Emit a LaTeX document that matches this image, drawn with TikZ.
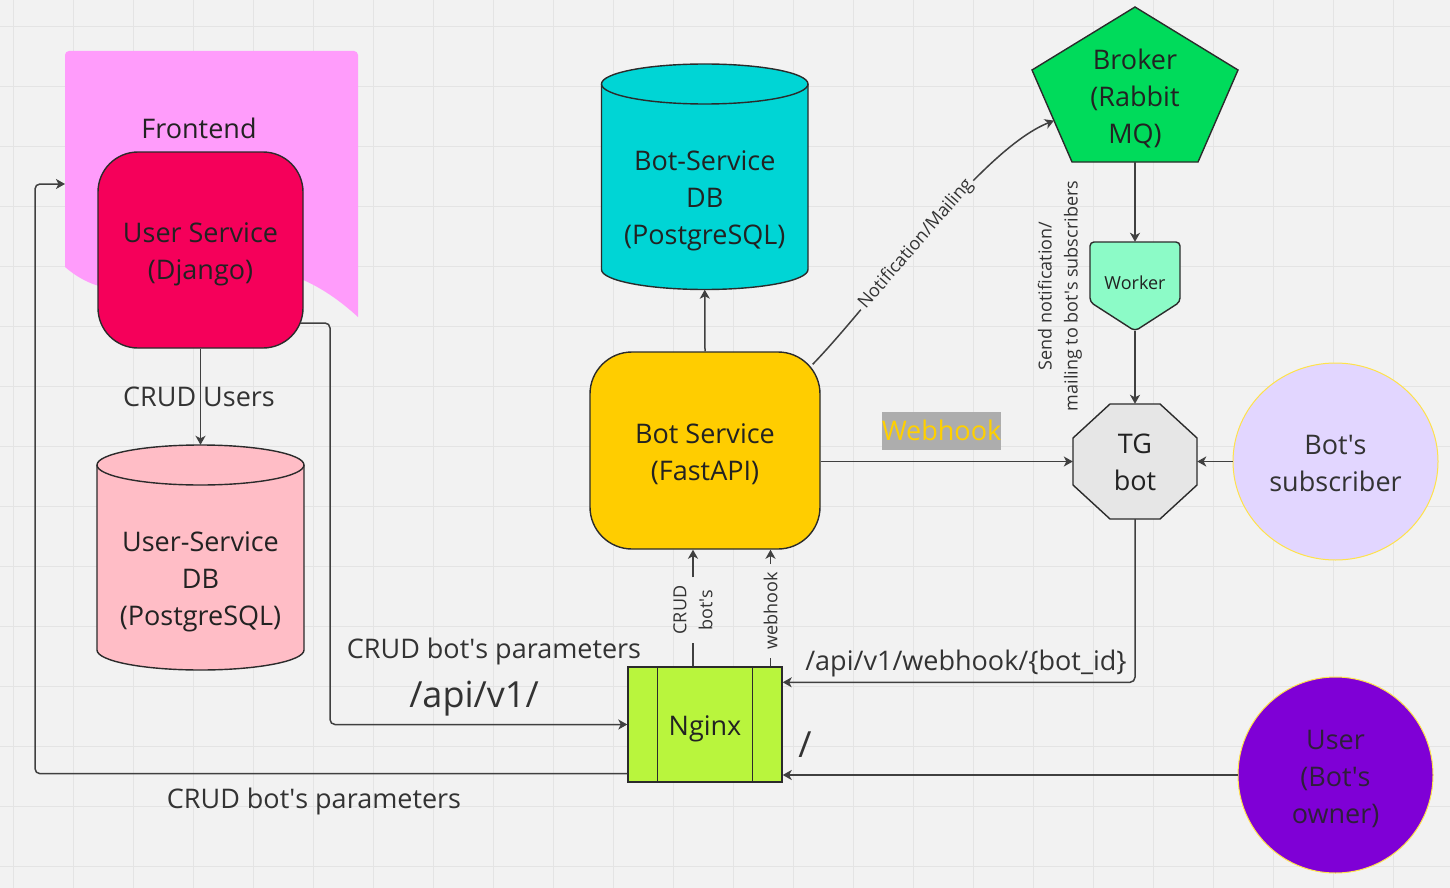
\documentclass[tikz,border=0pt]{standalone}
\usepackage{fontspec}
\setmainfont{Open Sans}
\usetikzlibrary{arrows.meta,calc,shapes.geometric}
\definecolor{bgc}{HTML}{F2F2F2}
\definecolor{gridc}{HTML}{E4E4E4}
\definecolor{edgec}{HTML}{2B2B2B}
\definecolor{linec}{HTML}{404040}
\definecolor{inkc}{HTML}{222222}
\definecolor{labc}{HTML}{333333}
\definecolor{frontc}{HTML}{FF9CFB}
\definecolor{usc}{HTML}{F5005A}
\definecolor{udbc}{HTML}{FFBDC6}
\definecolor{bdbc}{HTML}{00D5D5}
\definecolor{bsc}{HTML}{FFCD00}
\definecolor{ngc}{HTML}{B9F53D}
\definecolor{brc}{HTML}{00DB5B}
\definecolor{wkc}{HTML}{8CFBC7}
\definecolor{tgc}{HTML}{E6E6E6}
\definecolor{subc}{HTML}{E2D6FF}
\definecolor{ownc}{HTML}{7F00D6}
\definecolor{ringc}{HTML}{FFE24A}
\definecolor{ownink}{HTML}{2E1F3A}
\definecolor{whbg}{HTML}{ADADAD}
\definecolor{whfg}{HTML}{FFD000}
\newcommand{\fbig}{\fontsize{27}{37}\selectfont}
\newcommand{\fhuge}{\fontsize{36}{42}\selectfont}
\newcommand{\fsmall}{\fontsize{18}{26}\selectfont}
\newcommand{\qs}{\textquotesingle}

\begin{document}
\begin{tikzpicture}[x=1pt,y=-1pt,
  shapebox/.style={draw=edgec,line width=1.4pt,inner sep=0pt},
  anchorbox/.style={inner sep=0pt,draw=none},
  txt/.style={text=inkc,font=\fbig,align=center,inner sep=0pt},
  lbl/.style={text=labc,font=\fbig,align=center,inner sep=0pt},
  lblsm/.style={text=labc,font=\fsmall,align=center,inner sep=0pt},
  outline/.style={draw=edgec,line width=1.4pt},
  conn/.style={draw=linec,line width=1.5pt},
  arr/.style={conn,-{Stealth[length=9pt,width=10pt,inset=2.5pt]}},
  gridline/.style={draw=gridc,line width=1pt}]
\useasboundingbox (0,0) rectangle (1450,888);
\fill[bgc] (0,0) rectangle (1450,888);
\foreach \i in {0,...,24} \draw[gridline] ({13+60*\i},0) -- ++(0,888);
\foreach \i in {0,...,14} \draw[gridline] (0,{26.7+60*\i}) -- ++(1450,0);

% Frontend document shape
\fill[frontc] (65,267) [rounded corners=4pt] -- (65,51) -- (358,51) [sharp corners] -- (358,317)
  .. controls (230,200) and (150,340) .. (65,267) -- cycle;
\node[txt] (fetxt) at (199,128) {Frontend};
\coordinate (fe) at (65,184);

% User Service
\node[shapebox, fill=usc, rounded corners=40pt, minimum width=205pt, minimum height=196pt] (us) at (200.5,250) {};
\node[txt] (ustxt) at (200.5,254) {User Service\\(Django)};

% User-Service DB cylinder
\path[fill=udbc, outline] (97,465) -- (97,650) arc[start angle=180,end angle=0,x radius=103.5,y radius=20]
  -- (304,465) arc[start angle=0,end angle=-180,x radius=103.5,y radius=20] -- cycle;
\draw[outline] (97,465) arc[start angle=180,end angle=0,x radius=103.5,y radius=20];
\node[anchorbox, minimum width=207pt, minimum height=225pt] (udb) at (200.5,557.5) {};
\node[txt] (udbtxt) at (200.5,582) {User-Service\\DB\\(PostgreSQL)};

% Bot-Service DB cylinder
\path[fill=bdbc, outline] (601.5,84) -- (601.5,269.5) arc[start angle=180,end angle=0,x radius=103.25,y radius=20]
  -- (808,84) arc[start angle=0,end angle=-180,x radius=103.25,y radius=20] -- cycle;
\draw[outline] (601.5,84) arc[start angle=180,end angle=0,x radius=103.25,y radius=20];
\node[anchorbox, minimum width=206.5pt, minimum height=225.5pt] (bdb) at (704.75,176.75) {};
\node[txt] (bdbtxt) at (704.75,201) {Bot-Service\\DB\\(PostgreSQL)};

% Bot Service
\node[shapebox, fill=bsc, rounded corners=42pt, minimum width=230pt, minimum height=197pt] (bs) at (705,450.5) {};
\node[txt] (bstxt) at (705,454) {Bot Service\\(FastAPI)};

% Nginx
\node[shapebox, fill=ngc, minimum width=154pt, minimum height=115pt] (ng) at (705,724.5) {};
\draw[outline] ($(ng.north west)+(30,0)$) -- ($(ng.south west)+(30,0)$);
\draw[outline] ($(ng.north east)+(-30,0)$) -- ($(ng.south east)+(-30,0)$);
\node[txt] (ngtxt) at (705,729) {Nginx};

% Broker pentagon
\coordinate (bT) at (1135,7);
\coordinate (bR) at (1238,70);
\coordinate (bBR) at (1198,162);
\coordinate (bBL) at (1072,162);
\coordinate (bL) at (1032,70);
\path[fill=brc, outline] (bT) -- (bR) -- (bBR) -- (bBL) -- (bL) -- cycle;
\node[txt] (broker) at (1135,99) {Broker\\(Rabbit\\MQ)};
\coordinate (bS) at ($(bBL)!0.5!(bBR)$);
\coordinate (bIn) at ($(bL)!0.55!(bBL)$);

% Worker
\path[fill=wkc, outline, rounded corners=4pt] (1090,242) -- (1180,242) -- (1180,302) -- (1135,331) -- (1090,302) -- cycle;
\node[anchorbox, minimum width=90pt, minimum height=89pt] (wk) at (1135,286.5) {};
\node[lblsm, text=inkc] (wktxt) at (1135,283) {Worker};

% TG bot octagon
\path[fill=tgc, outline] (1110,404) -- (1160,404) -- (1197,438) -- (1197,485) -- (1160,519) -- (1110,519) -- (1073,485) -- (1073,438) -- cycle;
\node[anchorbox, minimum width=124pt, minimum height=115pt] (tg) at (1135,461.5) {};
\node[txt] (tgtxt) at (1135,462.5) {TG\\bot};

% Bot's subscriber
\node[ellipse, draw=ringc, line width=1pt, fill=subc, minimum width=205pt, minimum height=197pt, inner sep=0pt] (sub) at (1335.5,461.5) {};
\node[lbl] (subtxt) at (1335.5,463) {Bot\qs s\\subscriber};

% User (Bot's owner)
\node[ellipse, draw=ringc, line width=1pt, fill=ownc, minimum width=195pt, minimum height=196pt, inner sep=0pt] (own) at (1335.5,775) {};
\node[txt, text=ownink] (owntxt) at (1335.5,779) {User\\(Bot\qs s\\owner)};

% Connectors
\draw[arr] (us.south) -- (udb.north);
\node[lbl] (crudusers) at (199,397) {CRUD Users};

\coordinate (usr) at (300,323);
\draw[arr, rounded corners=5pt] (usr) -- ($(usr)+(30,0)$) |- (ng.west);
\node[lbl] (cbp1) at (494,651) {CRUD bot\qs s parameters};
\node[lbl, font=\fhuge] (api1) at (474,699) {/api/v1/};

\draw[arr, rounded corners=5pt] ($(ng.south west)+(0,-9)$) -| ($(fe)+(-30,0)$) -- (fe);
\node[lbl] (cbp2) at (314,801) {CRUD bot\qs s parameters};

\draw[arr] (bs.north) -- (bdb.south);

\coordinate (bsne) at ($(bs.north east)+(-8,13)$);
\path (bsne) .. controls (875,300) and (980,150) .. (bIn)
  node[pos=0.45, sloped, lblsm, inner xsep=3pt, inner ysep=2pt] (notif) {Notification/Mailing};
\begin{scope}[even odd rule]
\clip (0,0) rectangle (1450,888)
  (notif.north west) -- (notif.north east) -- (notif.south east) -- (notif.south west) -- cycle;
\draw[arr] (bsne) .. controls (875,300) and (980,150) .. (bIn);
\end{scope}

\draw[arr] (bS) -- (wk.north);
\draw[arr] (wk.south) -- (tg.north);
\node[lblsm, rotate=90] (sendlbl) at (1060,296) {Send notification/\\mailing to bot\qs s subscribers};

\draw[arr] (bs.east |- tg.west) -- (tg.west);
\node[fill=whbg, text=whfg, font=\fbig, minimum width=119pt, minimum height=38pt, inner sep=0pt] (whlbl) at (941.5,430.5) {Webhook};

\draw[arr] (sub.west) -- (tg.east);

\draw[arr, rounded corners=5pt] (tg.south) |- ($(ng.north east)+(0,16)$);
\node[lbl] (apiwh) at (966,663) {/api/v1/webhook/\{bot\_id\}};

\draw[arr] (own.west) -- (own.west -| ng.east);
\node[lbl, font=\fhuge] (slash) at (805,745) {/};

\node[lblsm, rotate=90, inner xsep=8pt] (crud) at (693,610) {CRUD\\bot\qs s};
\draw[conn] (ng.north -| crud.center) -- (crud.west);
\draw[arr] (crud.east) -- (bs.south -| crud.center);

\node[lblsm, rotate=90, inner xsep=8pt] (wh) at (770.5,611) {webhook};
\draw[conn] (ng.north -| wh.center) -- (wh.west);
\draw[arr] (wh.east) -- (bs.south -| wh.center);
\end{tikzpicture}
\end{document}
